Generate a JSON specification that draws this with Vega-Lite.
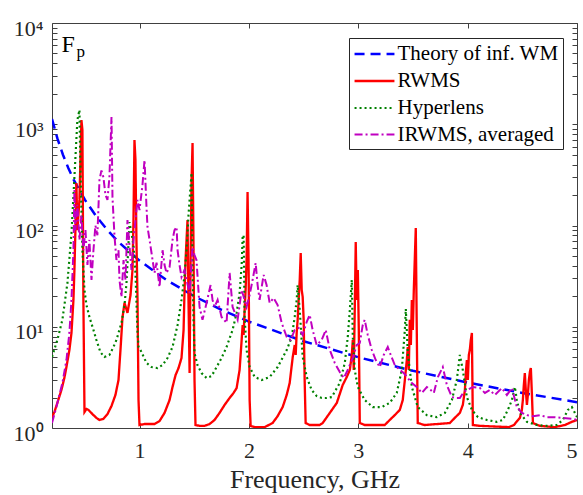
{
"$schema": "https://vega.github.io/schema/vega-lite/v6.json",
"width": 525, "height": 405,
"autosize": {"type": "none"},
"padding": {"left": 52, "top": 23, "right": 6, "bottom": 67},
"background": "white",
"config": {"font": "Liberation Serif", "view": {"stroke": null}},
"datasets": {
"curves": [
{"s":"Theory of inf. WM","f":0.2,"Fp":1125},{"s":"Theory of inf. WM","f":0.25,"Fp":720},{"s":"Theory of inf. WM","f":0.3,"Fp":500},{"s":"Theory of inf. WM","f":0.35,"Fp":367},{"s":"Theory of inf. WM","f":0.4,"Fp":281},{"s":"Theory of inf. WM","f":0.5,"Fp":180},{"s":"Theory of inf. WM","f":0.6,"Fp":125},{"s":"Theory of inf. WM","f":0.7,"Fp":92},{"s":"Theory of inf. WM","f":0.8,"Fp":70},{"s":"Theory of inf. WM","f":1.0,"Fp":45},{"s":"Theory of inf. WM","f":1.25,"Fp":28.8},{"s":"Theory of inf. WM","f":1.5,"Fp":20},{"s":"Theory of inf. WM","f":1.75,"Fp":14.7},{"s":"Theory of inf. WM","f":2.0,"Fp":11.25},{"s":"Theory of inf. WM","f":2.5,"Fp":7.2},{"s":"Theory of inf. WM","f":3.0,"Fp":5.0},{"s":"Theory of inf. WM","f":3.5,"Fp":3.67},{"s":"Theory of inf. WM","f":4.0,"Fp":2.81},{"s":"Theory of inf. WM","f":4.5,"Fp":2.22},{"s":"Theory of inf. WM","f":5.0,"Fp":1.8},
{"s":"RWMS","f":0.2,"Fp":1.28},{"s":"RWMS","f":0.222,"Fp":1.44},{"s":"RWMS","f":0.249,"Fp":1.77},{"s":"RWMS","f":0.286,"Fp":2.37},{"s":"RWMS","f":0.313,"Fp":3.12},{"s":"RWMS","f":0.332,"Fp":4.0},{"s":"RWMS","f":0.359,"Fp":5.89},{"s":"RWMS","f":0.378,"Fp":8.68},{"s":"RWMS","f":0.396,"Fp":18.4},{"s":"RWMS","f":0.405,"Fp":36.4},{"s":"RWMS","f":0.414,"Fp":90},{"s":"RWMS","f":0.423,"Fp":263},{"s":"RWMS","f":0.432,"Fp":90},{"s":"RWMS","f":0.451,"Fp":179},{"s":"RWMS","f":0.469,"Fp":1100},{"s":"RWMS","f":0.478,"Fp":878},{"s":"RWMS","f":0.487,"Fp":18.4},{"s":"RWMS","f":0.497,"Fp":1.44},{"s":"RWMS","f":0.515,"Fp":1.54},{"s":"RWMS","f":0.533,"Fp":1.51},{"s":"RWMS","f":0.57,"Fp":1.37},{"s":"RWMS","f":0.606,"Fp":1.26},{"s":"RWMS","f":0.634,"Fp":1.2},{"s":"RWMS","f":0.67,"Fp":1.23},{"s":"RWMS","f":0.707,"Fp":1.37},{"s":"RWMS","f":0.744,"Fp":1.65},{"s":"RWMS","f":0.78,"Fp":2.12},{"s":"RWMS","f":0.808,"Fp":2.98},{"s":"RWMS","f":0.826,"Fp":5.89},{"s":"RWMS","f":0.844,"Fp":12.2},{"s":"RWMS","f":0.863,"Fp":17.2},{"s":"RWMS","f":0.89,"Fp":13.7},{"s":"RWMS","f":0.918,"Fp":20.6},{"s":"RWMS","f":0.936,"Fp":36.4},{"s":"RWMS","f":0.945,"Fp":113},{"s":"RWMS","f":0.954,"Fp":699},{"s":"RWMS","f":0.963,"Fp":444},{"s":"RWMS","f":0.972,"Fp":72},{"s":"RWMS","f":0.982,"Fp":18.4},{"s":"RWMS","f":0.991,"Fp":1.89},{"s":"RWMS","f":1.0,"Fp":1.07},
{"s":"RWMS","f":1.046,"Fp":1.095},{"s":"RWMS","f":1.092,"Fp":1.095},{"s":"RWMS","f":1.137,"Fp":1.095},{"s":"RWMS","f":1.183,"Fp":1.17},{"s":"RWMS","f":1.229,"Fp":1.41},{"s":"RWMS","f":1.275,"Fp":1.89},{"s":"RWMS","f":1.302,"Fp":2.54},{"s":"RWMS","f":1.33,"Fp":3.34},{"s":"RWMS","f":1.357,"Fp":3.91},{"s":"RWMS","f":1.384,"Fp":4.91},{"s":"RWMS","f":1.403,"Fp":9.29},{"s":"RWMS","f":1.412,"Fp":23.1},{"s":"RWMS","f":1.421,"Fp":45.6},{"s":"RWMS","f":1.43,"Fp":72},{"s":"RWMS","f":1.439,"Fp":113},{"s":"RWMS","f":1.448,"Fp":18.4},{"s":"RWMS","f":1.458,"Fp":3.49},{"s":"RWMS","f":1.467,"Fp":45.6},{"s":"RWMS","f":1.476,"Fp":281},{"s":"RWMS","f":1.485,"Fp":653},{"s":"RWMS","f":1.494,"Fp":57},{"s":"RWMS","f":1.503,"Fp":2.98},{"s":"RWMS","f":1.512,"Fp":1.07},
{"s":"RWMS","f":1.549,"Fp":1.05},{"s":"RWMS","f":1.595,"Fp":1.05},{"s":"RWMS","f":1.641,"Fp":1.095},{"s":"RWMS","f":1.686,"Fp":1.2},{"s":"RWMS","f":1.732,"Fp":1.41},{"s":"RWMS","f":1.778,"Fp":1.69},{"s":"RWMS","f":1.824,"Fp":1.98},{"s":"RWMS","f":1.86,"Fp":2.22},{"s":"RWMS","f":1.888,"Fp":2.48},{"s":"RWMS","f":1.915,"Fp":3.74},{"s":"RWMS","f":1.934,"Fp":7.4},{"s":"RWMS","f":1.943,"Fp":10.4},{"s":"RWMS","f":1.952,"Fp":8.3},{"s":"RWMS","f":1.961,"Fp":14.6},{"s":"RWMS","f":1.97,"Fp":23.1},{"s":"RWMS","f":1.979,"Fp":45.6},{"s":"RWMS","f":1.988,"Fp":214},{"s":"RWMS","f":1.997,"Fp":45.6},{"s":"RWMS","f":2.007,"Fp":1.89},{"s":"RWMS","f":2.016,"Fp":1.05},
{"s":"RWMS","f":2.053,"Fp":1.02},{"s":"RWMS","f":2.144,"Fp":1.02},{"s":"RWMS","f":2.217,"Fp":1.12},{"s":"RWMS","f":2.263,"Fp":1.31},{"s":"RWMS","f":2.309,"Fp":1.61},{"s":"RWMS","f":2.346,"Fp":2.12},{"s":"RWMS","f":2.373,"Fp":2.78},{"s":"RWMS","f":2.401,"Fp":5.03},{"s":"RWMS","f":2.419,"Fp":6.6},{"s":"RWMS","f":2.428,"Fp":5.26},{"s":"RWMS","f":2.437,"Fp":8.68},{"s":"RWMS","f":2.446,"Fp":11.7},{"s":"RWMS","f":2.455,"Fp":18.4},{"s":"RWMS","f":2.465,"Fp":29},{"s":"RWMS","f":2.474,"Fp":53.5},{"s":"RWMS","f":2.483,"Fp":23.1},{"s":"RWMS","f":2.492,"Fp":19.7},{"s":"RWMS","f":2.501,"Fp":11.7},{"s":"RWMS","f":2.51,"Fp":2.98},{"s":"RWMS","f":2.519,"Fp":1.12},
{"s":"RWMS","f":2.556,"Fp":1.07},{"s":"RWMS","f":2.647,"Fp":1.07},{"s":"RWMS","f":2.675,"Fp":1.12},{"s":"RWMS","f":2.74,"Fp":1.41},{"s":"RWMS","f":2.804,"Fp":1.77},{"s":"RWMS","f":2.858,"Fp":2.66},{"s":"RWMS","f":2.895,"Fp":3.19},{"s":"RWMS","f":2.923,"Fp":3.74},{"s":"RWMS","f":2.941,"Fp":5.26},{"s":"RWMS","f":2.95,"Fp":7.4},{"s":"RWMS","f":2.959,"Fp":3.74},{"s":"RWMS","f":2.968,"Fp":14.6},{"s":"RWMS","f":2.977,"Fp":68.7},{"s":"RWMS","f":2.986,"Fp":18.4},{"s":"RWMS","f":2.996,"Fp":36.4},{"s":"RWMS","f":3.005,"Fp":9.3},{"s":"RWMS","f":3.014,"Fp":1.12},
{"s":"RWMS","f":3.059,"Fp":1.07},{"s":"RWMS","f":3.242,"Fp":1.07},{"s":"RWMS","f":3.288,"Fp":1.2},{"s":"RWMS","f":3.334,"Fp":1.34},{"s":"RWMS","f":3.38,"Fp":1.51},{"s":"RWMS","f":3.407,"Fp":1.89},{"s":"RWMS","f":3.426,"Fp":2.98},{"s":"RWMS","f":3.444,"Fp":4.69},{"s":"RWMS","f":3.453,"Fp":6.31},{"s":"RWMS","f":3.462,"Fp":3.74},{"s":"RWMS","f":3.471,"Fp":11.7},{"s":"RWMS","f":3.481,"Fp":6.6},{"s":"RWMS","f":3.49,"Fp":18.4},{"s":"RWMS","f":3.499,"Fp":9.3},{"s":"RWMS","f":3.508,"Fp":23.1},{"s":"RWMS","f":3.526,"Fp":94.5},{"s":"RWMS","f":3.535,"Fp":9.3},{"s":"RWMS","f":3.544,"Fp":1.12},
{"s":"RWMS","f":3.608,"Fp":1.07},{"s":"RWMS","f":3.837,"Fp":1.12},{"s":"RWMS","f":3.883,"Fp":1.26},{"s":"RWMS","f":3.929,"Fp":1.41},{"s":"RWMS","f":3.956,"Fp":1.69},{"s":"RWMS","f":3.975,"Fp":2.37},{"s":"RWMS","f":3.984,"Fp":3.57},{"s":"RWMS","f":3.993,"Fp":4.69},{"s":"RWMS","f":4.002,"Fp":2.98},{"s":"RWMS","f":4.011,"Fp":5.26},{"s":"RWMS","f":4.02,"Fp":5.89},{"s":"RWMS","f":4.029,"Fp":7.4},{"s":"RWMS","f":4.039,"Fp":8.68},{"s":"RWMS","f":4.048,"Fp":1.07},
{"s":"RWMS","f":4.112,"Fp":1.05},{"s":"RWMS","f":4.377,"Fp":1.02},{"s":"RWMS","f":4.423,"Fp":1.07},{"s":"RWMS","f":4.478,"Fp":1.26},{"s":"RWMS","f":4.496,"Fp":1.51},{"s":"RWMS","f":4.505,"Fp":1.89},{"s":"RWMS","f":4.514,"Fp":2.66},{"s":"RWMS","f":4.523,"Fp":3.49},{"s":"RWMS","f":4.532,"Fp":2.37},{"s":"RWMS","f":4.542,"Fp":1.69},{"s":"RWMS","f":4.551,"Fp":2.12},{"s":"RWMS","f":4.56,"Fp":2.98},{"s":"RWMS","f":4.569,"Fp":3.57},{"s":"RWMS","f":4.578,"Fp":3.91},{"s":"RWMS","f":4.588,"Fp":2.12},{"s":"RWMS","f":4.597,"Fp":1.12},
{"s":"RWMS","f":4.661,"Fp":1.05},{"s":"RWMS","f":4.798,"Fp":1.02},{"s":"RWMS","f":4.889,"Fp":1.07},{"s":"RWMS","f":4.953,"Fp":1.15},{"s":"RWMS","f":5.0,"Fp":1.2},
{"s":"Hyperlens","f":0.2,"Fp":5.03},{"s":"Hyperlens","f":0.249,"Fp":7.4},{"s":"Hyperlens","f":0.295,"Fp":11.7},{"s":"Hyperlens","f":0.341,"Fp":27},{"s":"Hyperlens","f":0.378,"Fp":84},{"s":"Hyperlens","f":0.405,"Fp":301},{"s":"Hyperlens","f":0.432,"Fp":1100},{"s":"Hyperlens","f":0.451,"Fp":1384},{"s":"Hyperlens","f":0.46,"Fp":353},{"s":"Hyperlens","f":0.469,"Fp":142},{"s":"Hyperlens","f":0.478,"Fp":57},{"s":"Hyperlens","f":0.497,"Fp":23},{"s":"Hyperlens","f":0.515,"Fp":16.4},{"s":"Hyperlens","f":0.542,"Fp":12.5},{"s":"Hyperlens","f":0.579,"Fp":9.3},{"s":"Hyperlens","f":0.606,"Fp":7.4},{"s":"Hyperlens","f":0.643,"Fp":5.6},{"s":"Hyperlens","f":0.679,"Fp":5.03},{"s":"Hyperlens","f":0.725,"Fp":5.26},{"s":"Hyperlens","f":0.762,"Fp":6.31},{"s":"Hyperlens","f":0.789,"Fp":7.4},{"s":"Hyperlens","f":0.835,"Fp":10.9},{"s":"Hyperlens","f":0.863,"Fp":16.4},{"s":"Hyperlens","f":0.881,"Fp":27},{"s":"Hyperlens","f":0.899,"Fp":64},{"s":"Hyperlens","f":0.908,"Fp":108},{"s":"Hyperlens","f":0.927,"Fp":84},{"s":"Hyperlens","f":0.945,"Fp":64},{"s":"Hyperlens","f":0.963,"Fp":34},{"s":"Hyperlens","f":0.982,"Fp":8.68},{"s":"Hyperlens","f":0.991,"Fp":6.31},
{"s":"Hyperlens","f":1.009,"Fp":5.89},{"s":"Hyperlens","f":1.064,"Fp":4.39},{"s":"Hyperlens","f":1.11,"Fp":4.0},{"s":"Hyperlens","f":1.165,"Fp":3.91},{"s":"Hyperlens","f":1.211,"Fp":4.19},{"s":"Hyperlens","f":1.256,"Fp":4.91},{"s":"Hyperlens","f":1.302,"Fp":6.31},{"s":"Hyperlens","f":1.348,"Fp":10.4},{"s":"Hyperlens","f":1.384,"Fp":18.4},{"s":"Hyperlens","f":1.412,"Fp":32.5},{"s":"Hyperlens","f":1.43,"Fp":57},{"s":"Hyperlens","f":1.448,"Fp":127},{"s":"Hyperlens","f":1.458,"Fp":179},{"s":"Hyperlens","f":1.476,"Fp":330},{"s":"Hyperlens","f":1.485,"Fp":38.9},{"s":"Hyperlens","f":1.494,"Fp":11.7},{"s":"Hyperlens","f":1.503,"Fp":5.5},{"s":"Hyperlens","f":1.53,"Fp":4.19},{"s":"Hyperlens","f":1.567,"Fp":3.49},{"s":"Hyperlens","f":1.613,"Fp":3.12},{"s":"Hyperlens","f":1.659,"Fp":3.26},{"s":"Hyperlens","f":1.705,"Fp":4.0},{"s":"Hyperlens","f":1.75,"Fp":4.91},{"s":"Hyperlens","f":1.796,"Fp":6.31},{"s":"Hyperlens","f":1.851,"Fp":9.3},{"s":"Hyperlens","f":1.888,"Fp":13.7},{"s":"Hyperlens","f":1.915,"Fp":21.5},{"s":"Hyperlens","f":1.934,"Fp":40.7},{"s":"Hyperlens","f":1.943,"Fp":77},{"s":"Hyperlens","f":1.952,"Fp":80.6},{"s":"Hyperlens","f":1.961,"Fp":12.5},{"s":"Hyperlens","f":1.979,"Fp":5.89},{"s":"Hyperlens","f":2.007,"Fp":4.0},{"s":"Hyperlens","f":2.053,"Fp":3.19},{"s":"Hyperlens","f":2.117,"Fp":2.98},{"s":"Hyperlens","f":2.19,"Fp":3.19},{"s":"Hyperlens","f":2.263,"Fp":4.0},{"s":"Hyperlens","f":2.346,"Fp":5.89},{"s":"Hyperlens","f":2.392,"Fp":7.92},{"s":"Hyperlens","f":2.419,"Fp":12.5},{"s":"Hyperlens","f":2.437,"Fp":18.4},{"s":"Hyperlens","f":2.446,"Fp":25.8},{"s":"Hyperlens","f":2.465,"Fp":14.6},{"s":"Hyperlens","f":2.492,"Fp":5.03},{"s":"Hyperlens","f":2.529,"Fp":3.19},{"s":"Hyperlens","f":2.574,"Fp":2.37},{"s":"Hyperlens","f":2.62,"Fp":2.07},{"s":"Hyperlens","f":2.666,"Fp":1.98},{"s":"Hyperlens","f":2.712,"Fp":1.98},{"s":"Hyperlens","f":2.758,"Fp":2.02},{"s":"Hyperlens","f":2.794,"Fp":2.37},{"s":"Hyperlens","f":2.831,"Fp":2.78},{"s":"Hyperlens","f":2.877,"Fp":4.39},{"s":"Hyperlens","f":2.904,"Fp":7.92},{"s":"Hyperlens","f":2.923,"Fp":14.6},{"s":"Hyperlens","f":2.941,"Fp":29},{"s":"Hyperlens","f":2.95,"Fp":7.92},{"s":"Hyperlens","f":2.968,"Fp":3.74},{"s":"Hyperlens","f":2.996,"Fp":2.54},{"s":"Hyperlens","f":3.059,"Fp":1.89},{"s":"Hyperlens","f":3.133,"Fp":1.61},{"s":"Hyperlens","f":3.215,"Fp":1.61},{"s":"Hyperlens","f":3.288,"Fp":1.77},{"s":"Hyperlens","f":3.352,"Fp":2.22},{"s":"Hyperlens","f":3.398,"Fp":3.74},{"s":"Hyperlens","f":3.426,"Fp":9.29},{"s":"Hyperlens","f":3.435,"Fp":15.0},{"s":"Hyperlens","f":3.453,"Fp":5.5},{"s":"Hyperlens","f":3.49,"Fp":2.54},{"s":"Hyperlens","f":3.544,"Fp":1.61},{"s":"Hyperlens","f":3.627,"Fp":1.34},{"s":"Hyperlens","f":3.718,"Fp":1.28},{"s":"Hyperlens","f":3.792,"Fp":1.41},{"s":"Hyperlens","f":3.856,"Fp":1.89},{"s":"Hyperlens","f":3.901,"Fp":2.98},{"s":"Hyperlens","f":3.929,"Fp":5.26},{"s":"Hyperlens","f":3.956,"Fp":3.74},{"s":"Hyperlens","f":3.993,"Fp":2.02},{"s":"Hyperlens","f":4.039,"Fp":1.51},{"s":"Hyperlens","f":4.094,"Fp":1.28},{"s":"Hyperlens","f":4.176,"Fp":1.2},{"s":"Hyperlens","f":4.267,"Fp":1.15},{"s":"Hyperlens","f":4.322,"Fp":1.2},{"s":"Hyperlens","f":4.368,"Fp":1.51},{"s":"Hyperlens","f":4.405,"Fp":1.89},{"s":"Hyperlens","f":4.432,"Fp":2.54},{"s":"Hyperlens","f":4.45,"Fp":1.89},{"s":"Hyperlens","f":4.478,"Fp":1.41},{"s":"Hyperlens","f":4.542,"Fp":1.15},{"s":"Hyperlens","f":4.633,"Fp":1.07},{"s":"Hyperlens","f":4.725,"Fp":1.05},{"s":"Hyperlens","f":4.816,"Fp":1.07},{"s":"Hyperlens","f":4.871,"Fp":1.2},{"s":"Hyperlens","f":4.917,"Fp":1.51},{"s":"Hyperlens","f":4.953,"Fp":1.61},{"s":"Hyperlens","f":4.981,"Fp":1.41},{"s":"Hyperlens","f":5.0,"Fp":1.28},
{"s":"IRWMS, averaged","f":0.2,"Fp":1.12},{"s":"IRWMS, averaged","f":0.24,"Fp":1.61},{"s":"IRWMS, averaged","f":0.295,"Fp":2.78},{"s":"IRWMS, averaged","f":0.332,"Fp":4.69},{"s":"IRWMS, averaged","f":0.359,"Fp":8.68},{"s":"IRWMS, averaged","f":0.378,"Fp":18.4},{"s":"IRWMS, averaged","f":0.396,"Fp":57},{"s":"IRWMS, averaged","f":0.405,"Fp":224},{"s":"IRWMS, averaged","f":0.414,"Fp":90},{"s":"IRWMS, averaged","f":0.432,"Fp":160},{"s":"IRWMS, averaged","f":0.451,"Fp":72},{"s":"IRWMS, averaged","f":0.469,"Fp":127},{"s":"IRWMS, averaged","f":0.487,"Fp":57},{"s":"IRWMS, averaged","f":0.506,"Fp":90},{"s":"IRWMS, averaged","f":0.524,"Fp":40.7},{"s":"IRWMS, averaged","f":0.542,"Fp":72},{"s":"IRWMS, averaged","f":0.561,"Fp":29},{"s":"IRWMS, averaged","f":0.579,"Fp":57},{"s":"IRWMS, averaged","f":0.597,"Fp":100},{"s":"IRWMS, averaged","f":0.615,"Fp":80},{"s":"IRWMS, averaged","f":0.634,"Fp":281},{"s":"IRWMS, averaged","f":0.652,"Fp":350},{"s":"IRWMS, averaged","f":0.67,"Fp":300},{"s":"IRWMS, averaged","f":0.689,"Fp":200},{"s":"IRWMS, averaged","f":0.707,"Fp":179},{"s":"IRWMS, averaged","f":0.725,"Fp":300},{"s":"IRWMS, averaged","f":0.744,"Fp":1180},{"s":"IRWMS, averaged","f":0.753,"Fp":190},{"s":"IRWMS, averaged","f":0.771,"Fp":80},{"s":"IRWMS, averaged","f":0.789,"Fp":45.6},{"s":"IRWMS, averaged","f":0.808,"Fp":57},{"s":"IRWMS, averaged","f":0.817,"Fp":29},{"s":"IRWMS, averaged","f":0.835,"Fp":19.7},{"s":"IRWMS, averaged","f":0.854,"Fp":45.6},{"s":"IRWMS, averaged","f":0.872,"Fp":29},{"s":"IRWMS, averaged","f":0.89,"Fp":113},{"s":"IRWMS, averaged","f":0.908,"Fp":64},{"s":"IRWMS, averaged","f":0.927,"Fp":36.4},{"s":"IRWMS, averaged","f":0.945,"Fp":72},{"s":"IRWMS, averaged","f":0.963,"Fp":113},{"s":"IRWMS, averaged","f":0.982,"Fp":179},{"s":"IRWMS, averaged","f":1.0,"Fp":142},{"s":"IRWMS, averaged","f":1.027,"Fp":250},{"s":"IRWMS, averaged","f":1.046,"Fp":444},{"s":"IRWMS, averaged","f":1.064,"Fp":152},{"s":"IRWMS, averaged","f":1.073,"Fp":96.7},{"s":"IRWMS, averaged","f":1.092,"Fp":72},{"s":"IRWMS, averaged","f":1.11,"Fp":53.5},{"s":"IRWMS, averaged","f":1.137,"Fp":34},{"s":"IRWMS, averaged","f":1.156,"Fp":43},{"s":"IRWMS, averaged","f":1.183,"Fp":24.7},{"s":"IRWMS, averaged","f":1.211,"Fp":57},{"s":"IRWMS, averaged","f":1.229,"Fp":40.7},{"s":"IRWMS, averaged","f":1.247,"Fp":34},{"s":"IRWMS, averaged","f":1.275,"Fp":38.9},{"s":"IRWMS, averaged","f":1.302,"Fp":72},{"s":"IRWMS, averaged","f":1.32,"Fp":90},{"s":"IRWMS, averaged","f":1.339,"Fp":96.7},{"s":"IRWMS, averaged","f":1.348,"Fp":57},{"s":"IRWMS, averaged","f":1.366,"Fp":40.7},{"s":"IRWMS, averaged","f":1.384,"Fp":31},{"s":"IRWMS, averaged","f":1.412,"Fp":36.4},{"s":"IRWMS, averaged","f":1.43,"Fp":29},{"s":"IRWMS, averaged","f":1.458,"Fp":21.5},{"s":"IRWMS, averaged","f":1.485,"Fp":61.4},{"s":"IRWMS, averaged","f":1.503,"Fp":51},{"s":"IRWMS, averaged","f":1.521,"Fp":45.6},{"s":"IRWMS, averaged","f":1.549,"Fp":15.7},{"s":"IRWMS, averaged","f":1.576,"Fp":11.7},{"s":"IRWMS, averaged","f":1.613,"Fp":17.2},{"s":"IRWMS, averaged","f":1.65,"Fp":25.8},{"s":"IRWMS, averaged","f":1.668,"Fp":18.4},{"s":"IRWMS, averaged","f":1.686,"Fp":15.7},{"s":"IRWMS, averaged","f":1.714,"Fp":18.4},{"s":"IRWMS, averaged","f":1.75,"Fp":12.5},{"s":"IRWMS, averaged","f":1.796,"Fp":10.9},{"s":"IRWMS, averaged","f":1.824,"Fp":34},{"s":"IRWMS, averaged","f":1.851,"Fp":15.7},{"s":"IRWMS, averaged","f":1.897,"Fp":11.7},{"s":"IRWMS, averaged","f":1.934,"Fp":23.1},{"s":"IRWMS, averaged","f":1.961,"Fp":18.4},{"s":"IRWMS, averaged","f":1.979,"Fp":15.7},{"s":"IRWMS, averaged","f":2.007,"Fp":20.6},{"s":"IRWMS, averaged","f":2.034,"Fp":29},{"s":"IRWMS, averaged","f":2.062,"Fp":42.6},{"s":"IRWMS, averaged","f":2.08,"Fp":25.8},{"s":"IRWMS, averaged","f":2.098,"Fp":18.4},{"s":"IRWMS, averaged","f":2.135,"Fp":32.5},{"s":"IRWMS, averaged","f":2.162,"Fp":25.8},{"s":"IRWMS, averaged","f":2.19,"Fp":17.2},{"s":"IRWMS, averaged","f":2.226,"Fp":19.2},{"s":"IRWMS, averaged","f":2.263,"Fp":16.4},{"s":"IRWMS, averaged","f":2.3,"Fp":10.9},{"s":"IRWMS, averaged","f":2.346,"Fp":7.92},{"s":"IRWMS, averaged","f":2.382,"Fp":7.4},{"s":"IRWMS, averaged","f":2.419,"Fp":9.3},{"s":"IRWMS, averaged","f":2.455,"Fp":9.72},{"s":"IRWMS, averaged","f":2.492,"Fp":8.3},{"s":"IRWMS, averaged","f":2.529,"Fp":11.2},{"s":"IRWMS, averaged","f":2.556,"Fp":13.1},{"s":"IRWMS, averaged","f":2.583,"Fp":9.3},{"s":"IRWMS, averaged","f":2.62,"Fp":6.6},{"s":"IRWMS, averaged","f":2.666,"Fp":7.4},{"s":"IRWMS, averaged","f":2.703,"Fp":9.3},{"s":"IRWMS, averaged","f":2.74,"Fp":5.89},{"s":"IRWMS, averaged","f":2.785,"Fp":4.39},{"s":"IRWMS, averaged","f":2.831,"Fp":3.57},{"s":"IRWMS, averaged","f":2.868,"Fp":3.12},{"s":"IRWMS, averaged","f":2.895,"Fp":3.57},{"s":"IRWMS, averaged","f":2.923,"Fp":4.19},{"s":"IRWMS, averaged","f":2.95,"Fp":4.91},{"s":"IRWMS, averaged","f":2.986,"Fp":6.6},{"s":"IRWMS, averaged","f":3.014,"Fp":6.91},{"s":"IRWMS, averaged","f":3.041,"Fp":10.4},{"s":"IRWMS, averaged","f":3.059,"Fp":11.7},{"s":"IRWMS, averaged","f":3.087,"Fp":8.3},{"s":"IRWMS, averaged","f":3.124,"Fp":5.89},{"s":"IRWMS, averaged","f":3.16,"Fp":4.69},{"s":"IRWMS, averaged","f":3.197,"Fp":4.0},{"s":"IRWMS, averaged","f":3.233,"Fp":5.26},{"s":"IRWMS, averaged","f":3.27,"Fp":6.31},{"s":"IRWMS, averaged","f":3.297,"Fp":5.26},{"s":"IRWMS, averaged","f":3.334,"Fp":4.19},{"s":"IRWMS, averaged","f":3.38,"Fp":3.74},{"s":"IRWMS, averaged","f":3.416,"Fp":3.49},{"s":"IRWMS, averaged","f":3.453,"Fp":3.12},{"s":"IRWMS, averaged","f":3.49,"Fp":2.78},{"s":"IRWMS, averaged","f":3.535,"Fp":2.54},{"s":"IRWMS, averaged","f":3.581,"Fp":2.22},{"s":"IRWMS, averaged","f":3.627,"Fp":2.54},{"s":"IRWMS, averaged","f":3.663,"Fp":2.37},{"s":"IRWMS, averaged","f":3.691,"Fp":2.22},{"s":"IRWMS, averaged","f":3.728,"Fp":3.19},{"s":"IRWMS, averaged","f":3.773,"Fp":4.0},{"s":"IRWMS, averaged","f":3.81,"Fp":2.66},{"s":"IRWMS, averaged","f":3.856,"Fp":2.02},{"s":"IRWMS, averaged","f":3.892,"Fp":1.98},{"s":"IRWMS, averaged","f":3.929,"Fp":1.98},{"s":"IRWMS, averaged","f":3.965,"Fp":2.27},{"s":"IRWMS, averaged","f":3.993,"Fp":2.37},{"s":"IRWMS, averaged","f":4.048,"Fp":2.54},{"s":"IRWMS, averaged","f":4.112,"Fp":2.48},{"s":"IRWMS, averaged","f":4.158,"Fp":2.22},{"s":"IRWMS, averaged","f":4.203,"Fp":2.37},{"s":"IRWMS, averaged","f":4.249,"Fp":2.12},{"s":"IRWMS, averaged","f":4.313,"Fp":2.48},{"s":"IRWMS, averaged","f":4.359,"Fp":2.12},{"s":"IRWMS, averaged","f":4.405,"Fp":2.48},{"s":"IRWMS, averaged","f":4.45,"Fp":1.61},{"s":"IRWMS, averaged","f":4.496,"Fp":1.41},{"s":"IRWMS, averaged","f":4.542,"Fp":1.34},{"s":"IRWMS, averaged","f":4.597,"Fp":1.31},{"s":"IRWMS, averaged","f":4.661,"Fp":1.34},{"s":"IRWMS, averaged","f":4.725,"Fp":1.28},{"s":"IRWMS, averaged","f":4.78,"Fp":1.28},{"s":"IRWMS, averaged","f":4.871,"Fp":1.26},{"s":"IRWMS, averaged","f":4.963,"Fp":1.23},{"s":"IRWMS, averaged","f":5.0,"Fp":1.2}
]
},
"layer": [
{
"data": {"name": "curves"},
"mark": {"type": "line", "clip": true, "strokeCap": "butt"},
"encoding": {
"x": {"field": "f", "type": "quantitative",
"scale": {"domain": [0.2, 5], "nice": false, "zero": false},
"axis": {"orient": "bottom", "values": [1, 2, 3, 4, 5], "grid": false, "tickSize": -5, "labelPadding": 17,
"labelFontSize": 22, "labelFont": "Liberation Serif", "labelColor": "#262626", "tickColor": "#404040", "domainColor": "#404040",
"title": "Frequency, GHz", "titleFontSize": 26, "titleFontWeight": "normal", "titleFont": "Liberation Serif", "titleColor": "#262626", "titlePadding": 5}},
"y": {"field": "Fp", "type": "quantitative",
"scale": {"type": "log", "domain": [1, 10000], "nice": false},
"axis": {"orient": "left", "grid": false, "tickSize": -5, "labelPadding": 14, "labelOffset": 5,
"values": [1,2,3,4,5,6,7,8,9,10,20,30,40,50,60,70,80,90,100,200,300,400,500,600,700,800,900,1000,2000,3000,4000,5000,6000,7000,8000,9000,10000],
"labelExpr": "datum.value == 1 ? '10⁰' : datum.value == 10 ? '10¹' : datum.value == 100 ? '10²' : datum.value == 1000 ? '10³' : datum.value == 10000 ? '10⁴' : ''",
"labelFontSize": 22, "labelFont": "Liberation Serif", "labelColor": "#262626", "tickColor": "#404040", "domainColor": "#404040", "labelOverlap": false, "labelFlush": false, "title": null}},
"color": {"field": "s", "type": "nominal",
"scale": {"domain": ["Theory of inf. WM", "RWMS", "Hyperlens", "IRWMS, averaged"], "range": ["#0000ff", "#ff0000", "#008000", "#c000c0"]},
"legend": {"orient": "none", "legendX": 297, "legendY": 15, "title": null, "symbolType": "M-1.9,0H1.9", "symbolSize": 441, "symbolOffset": 9.5, "symbolStrokeWidth": 2.5,
"labelFontSize": 21, "labelFont": "Liberation Serif", "labelColor": "#000000", "strokeColor": "#262626", "fillColor": "white", "padding": 4, "rowPadding": 5, "labelOffset": 11, "labelLimit": 400}},
"strokeDash": {"field": "s", "type": "nominal",
"scale": {"domain": ["Theory of inf. WM", "RWMS", "Hyperlens", "IRWMS, averaged"], "range": [[10, 6], [1, 0], [2, 3], [8, 3, 2, 3]]}},
"strokeWidth": {"field": "s", "type": "nominal", "legend": null,
"scale": {"domain": ["Theory of inf. WM", "RWMS", "Hyperlens", "IRWMS, averaged"], "range": [2.5, 2, 2.5, 2.5]}}
}
},
{
"data": {"values": [{"f": 0.286, "Fp": 5170, "t": "F"}]},
"mark": {"type": "text", "align": "left", "baseline": "alphabetic", "fontSize": 24, "font": "Liberation Serif", "color": "#000000"},
"encoding": {
"x": {"field": "f", "type": "quantitative", "axis": {"orient": "top", "values": [1, 2, 3, 4, 5], "labels": false, "title": null, "grid": false, "tickSize": -5, "tickColor": "#404040", "domainColor": "#404040"}},
"y": {"field": "Fp", "type": "quantitative", "axis": {"orient": "right", "labels": false, "title": null, "grid": false, "tickSize": -5, "tickColor": "#404040", "domainColor": "#404040",
"values": [1,2,3,4,5,6,7,8,9,10,20,30,40,50,60,70,80,90,100,200,300,400,500,600,700,800,900,1000,2000,3000,4000,5000,6000,7000,8000,9000,10000]}},
"text": {"field": "t"}
}
},
{
"data": {"values": [{"f": 0.423, "Fp": 4615, "t": "p"}]},
"mark": {"type": "text", "align": "left", "baseline": "alphabetic", "fontSize": 17, "font": "Liberation Serif", "color": "#000000"},
"encoding": {
"x": {"field": "f", "type": "quantitative", "axis": null},
"y": {"field": "Fp", "type": "quantitative", "axis": null},
"text": {"field": "t"}
}
}
],
"resolve": {"axis": {"x": "independent", "y": "independent"}}
}
